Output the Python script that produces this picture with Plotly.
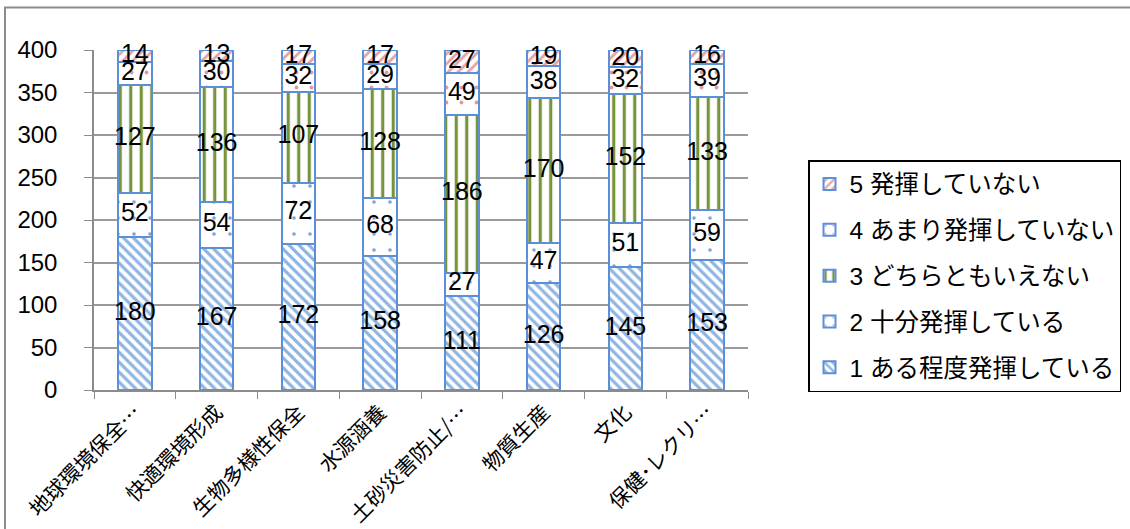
import plotly.graph_objects as go

categories = ["地球環境保全…", "快適環境形成", "生物多様性保全", "水源涵養",
              "土砂災害防止/…", "物質生産", "文化", "保健･レクリ…"]
s1 = [180, 167, 172, 158, 111, 126, 145, 153]   # 1 ある程度発揮している
s2 = [52, 54, 72, 68, 27, 47, 51, 59]           # 2 十分発揮している
s3 = [127, 136, 107, 128, 186, 170, 152, 133]   # 3 どちらともいえない
s4 = [27, 30, 32, 29, 49, 38, 32, 39]           # 4 あまり発揮していない
s5 = [14, 13, 17, 17, 27, 19, 20, 16]           # 5 発揮していない
series_names = ["1 ある程度発揮している", "2 十分発揮している", "3 どちらともいえない",
                "4 あまり発揮していない", "5 発揮していない"]
y_ticks = [0, 50, 100, 150, 200, 250, 300, 350, 400]

series = [s1, s2, s3, s4, s5]
patterns = [
    dict(shape="\\", fgcolor="#8DB4E2", bgcolor="white", size=7, solidity=0.45),
    dict(shape=".", fgcolor="#7BA3DC", bgcolor="white", size=16, solidity=0.04),
    dict(shape="|", fgcolor="#77933C", bgcolor="white", size=10.5, solidity=0.3),
    dict(shape=".", fgcolor="#E09A9A", bgcolor="white", size=15, solidity=0.05),
    dict(shape="/", fgcolor="#E6A3A3", bgcolor="white", size=7, solidity=0.4),
]
OUTLINE = "#5B8FD8"
NUMFONT = "Liberation Sans, Arial, Noto Sans CJK JP"
JPFONT = "Noto Sans CJK JP"

fig = go.Figure()
n = len(series)
for i, (vals, name, pat) in enumerate(zip(series, series_names, patterns)):
    fig.add_trace(go.Bar(
        x=categories, y=vals, name=name, legendgroup=f"g{i}",
        legendrank=1000 + (n - i),
        marker=dict(color="white", pattern=dict(fillmode="replace", **pat),
                    line=dict(color=OUTLINE, width=2)),
        cliponaxis=False, hoverinfo="skip",
    ))

# data labels at segment centres
base = [0] * len(categories)
for vals in series:
    mids = [b + v / 2 for b, v in zip(base, vals)]
    fig.add_trace(go.Scatter(
        x=categories, y=mids, mode="text", text=[str(v) for v in vals],
        textposition="middle center",
        textfont=dict(family=NUMFONT, size=25, color="black"),
        showlegend=False, hoverinfo="skip", cliponaxis=False,
    ))
    base = [b + v for b, v in zip(base, vals)]

L, R, T, B = 94, 382, 50, 139
W = 1130 - L - R
H = 529 - T - B

# outer chart frame (left and top edges visible)
fig.add_shape(type="rect", xref="paper", yref="paper",
              x0=(5 - L) / W, x1=(1140 - L) / W,
              y0=-(560 - 529 + B) / H, y1=1 + (T - 7.5) / H,
              line=dict(color="#8C8C8C", width=2), fillcolor="rgba(0,0,0,0)",
              layer="below")

fig.update_layout(
    width=1130, height=529,
    margin=dict(l=L, r=R, t=T, b=B, autoexpand=False),
    barmode="stack", bargap=0.59,
    paper_bgcolor="white", plot_bgcolor="white",
    font=dict(family=NUMFONT, color="black"),
    showlegend=True,
    legend=dict(
        x=(808 - L) / W, xanchor="left",
        y=1 - (160 - T) / H, yanchor="top",
        traceorder="grouped",
        font=dict(family=NUMFONT, size=24.5, color="black"),
        bordercolor="black", borderwidth=1.5, bgcolor="white",
        tracegroupgap=11, itemwidth=30,
    ),
    xaxis=dict(
        type="category", tickangle=-45,
        tickfont=dict(family=JPFONT, size=21, color="black"),
        showline=True, linecolor="#8C8C8C", linewidth=1.5,
        ticks="outside", tickson="boundaries", ticklen=7, tickcolor="#8C8C8C",
        showgrid=False, fixedrange=True,
    ),
    yaxis=dict(
        range=[0, 400], tickvals=y_ticks, ticktext=[str(t) for t in y_ticks],
        tickfont=dict(family=NUMFONT, size=24, color="black"),
        showline=True, linecolor="#8C8C8C", linewidth=1.5,
        ticks="outside", ticklen=8, tickcolor="#8C8C8C",
        ticklabelstandoff=22,
        showgrid=True, gridcolor="#9A9A9A", gridwidth=1.5,
        zeroline=False, fixedrange=True,
    ),
)

fig.write_html("out.html")
